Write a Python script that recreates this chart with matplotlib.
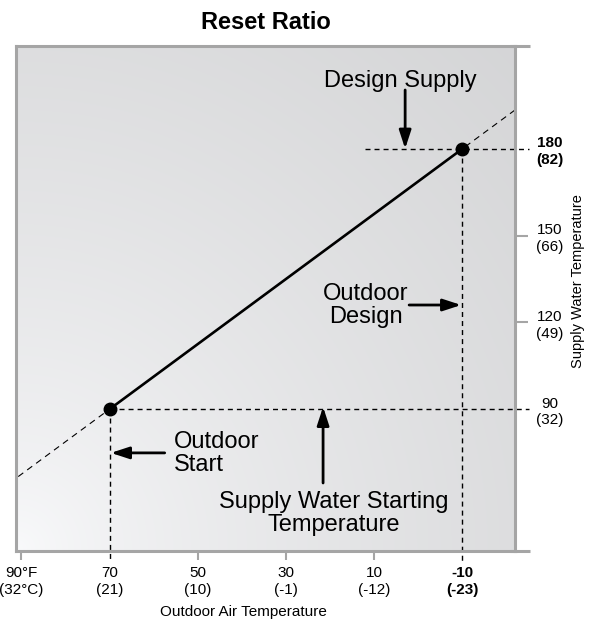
import numpy as np
import matplotlib
matplotlib.use("Agg")
import matplotlib.pyplot as plt

plt.rcParams['font.family'] = ['Liberation Sans', 'DejaVu Sans']
plt.rcParams['lines.scale_dashes'] = False

# ---- données ----
outdoor_f = [90, 70, 50, 30, 10, -10]
outdoor_c = ['32°C', '21', '10', '-1', '-12', '-23']
supply_f = [180, 150, 120, 90]
supply_c = ['82', '66', '49', '32']

start_point = (70, 90)     # (air extérieur °F, eau °F)
design_point = (-10, 180)

xlim = (91.2, -21.9)
ylim = (41.0, 215.5)
grey = '#a5a5a5'
dash = (0, (3.6, 2.9))

fig = plt.figure(figsize=(5.95, 6.28), dpi=100)
ax = fig.add_axes([16/595, 1-551/628, 499/595, 505/628])

# fond en dégradé radial depuis le coin bas-gauche
xx, yy = np.meshgrid(np.linspace(0, 1, 300), np.linspace(0, 1, 300))
r = np.sqrt(xx**2 + yy**2) / np.sqrt(2)
c = 0.98 - 0.145 * r**0.7
img = np.dstack([c, c + 0.002, c + 0.008]).clip(0, 1)
ax.imshow(img, extent=(xlim[0], xlim[1], ylim[0], ylim[1]), origin='lower',
          aspect='auto', zorder=0, interpolation='bilinear')

ax.set_xlim(*xlim)
ax.set_ylim(*ylim)

for s in ax.spines.values():
    s.set_color(grey)
    s.set_linewidth(2.2)
for yv in (0, 1):
    ax.plot([0.99, 1.03], [yv, yv], transform=ax.transAxes, color=grey,
            lw=2.2, clip_on=False, solid_capstyle='butt', zorder=3)

# droite de réglage prolongée
ax.axline(start_point, design_point, color='black', lw=0.8,
          linestyle=(0, (4.5, 3.5)), zorder=2)

# lignes de repère pointillées
xs, ys = start_point
xd, yd = design_point
ax.plot([12, -25.1], [yd, yd], color='black', lw=1.0, linestyle=dash, clip_on=False, zorder=2)
ax.plot([xs, -25.1], [ys, ys], color='black', lw=1.0, linestyle=dash, clip_on=False, zorder=2)
ax.plot([xd, xd], [yd, 37.5], color='black', lw=1.0, linestyle=dash, clip_on=False, zorder=2)
ax.plot([xs, xs], [ys, 37.5], color='black', lw=1.0, linestyle=dash, clip_on=False, zorder=2)

# droite principale
ax.plot([xs, xd], [ys, yd], color='black', lw=1.9, zorder=4,
        marker='o', markersize=9, solid_capstyle='round')

# axes
ax.set_xticks(outdoor_f)
xlabels = []
for f, cc in zip(outdoor_f, outdoor_c):
    if f == 90:
        xlabels.append('90°F\n(32°C)')
    else:
        xlabels.append('%d\n(%s)' % (f, cc))
ax.set_xticklabels(xlabels, fontsize=11, linespacing=1.3)
ax.tick_params(axis='x', direction='out', length=6.5, width=1.5, color=grey, pad=4)

ax.yaxis.tick_right()
ax.set_yticks(supply_f)
ax.set_yticklabels(['%d\n(%s)' % (f, cc) for f, cc in zip(supply_f, supply_c)],
                   fontsize=11, linespacing=1.25)
ax.tick_params(axis='y', direction='out', length=9, width=1.5, color=grey, pad=6)

for t, f in zip(ax.xaxis.get_major_ticks(), outdoor_f):
    t.label1.set_multialignment('center')
    if f in (xs, xd):
        t.tick1line.set_visible(False)
    if f == xd:
        t.label1.set_fontweight('bold')
for t, f in zip(ax.yaxis.get_major_ticks(), supply_f):
    t.label2.set_multialignment('center')
    if f in (ys, yd):
        t.tick2line.set_visible(False)
    if f == yd:
        t.label2.set_fontweight('bold')

ax.text(0.455, -0.121, 'Outdoor Air Temperature', transform=ax.transAxes,
        ha='center', va='center', fontsize=11)
ax.text(1.127, 0.535, 'Supply Water Temperature', transform=ax.transAxes,
        ha='center', va='center', rotation=90, fontsize=10.5)
ax.set_title('Reset Ratio', fontsize=17, fontweight='bold', pad=12)

# annotations
arrow = dict(arrowstyle='-|>,head_length=1.1,head_width=0.36', color='black',
             lw=2.0, mutation_scale=10, shrinkA=0, shrinkB=0)
ax.annotate('', xy=(3.0, yd), xytext=(3.0, 200.3), arrowprops=arrow, zorder=5)
ax.annotate('', xy=(xd + 0.3, 126.0), xytext=(2.1, 126.0), arrowprops=arrow, zorder=5)
ax.annotate('', xy=(xs - 0.3, 74.9), xytext=(57.5, 74.9), arrowprops=arrow, zorder=5)
ax.annotate('', xy=(21.6, ys + 0.8), xytext=(21.6, 64.5), arrowprops=arrow, zorder=5)

# va='baseline' : ligne de base de la dernière ligne
ax.text(4.07, 201.4, 'Design Supply', fontsize=17, ha='center', va='baseline')
ax.text(11.9, 119.8, 'Outdoor\nDesign', fontsize=17, ha='center', va='baseline',
        linespacing=1.05, multialignment='center')
ax.text(55.4, 68.6, 'Outdoor\nStart', fontsize=17, ha='left', va='baseline',
        linespacing=1.05)
ax.text(19.1, 47.9, 'Supply Water Starting\nTemperature', fontsize=17, ha='center',
        va='baseline', linespacing=1.05, multialignment='center')

plt.savefig('out.png', dpi=100)
